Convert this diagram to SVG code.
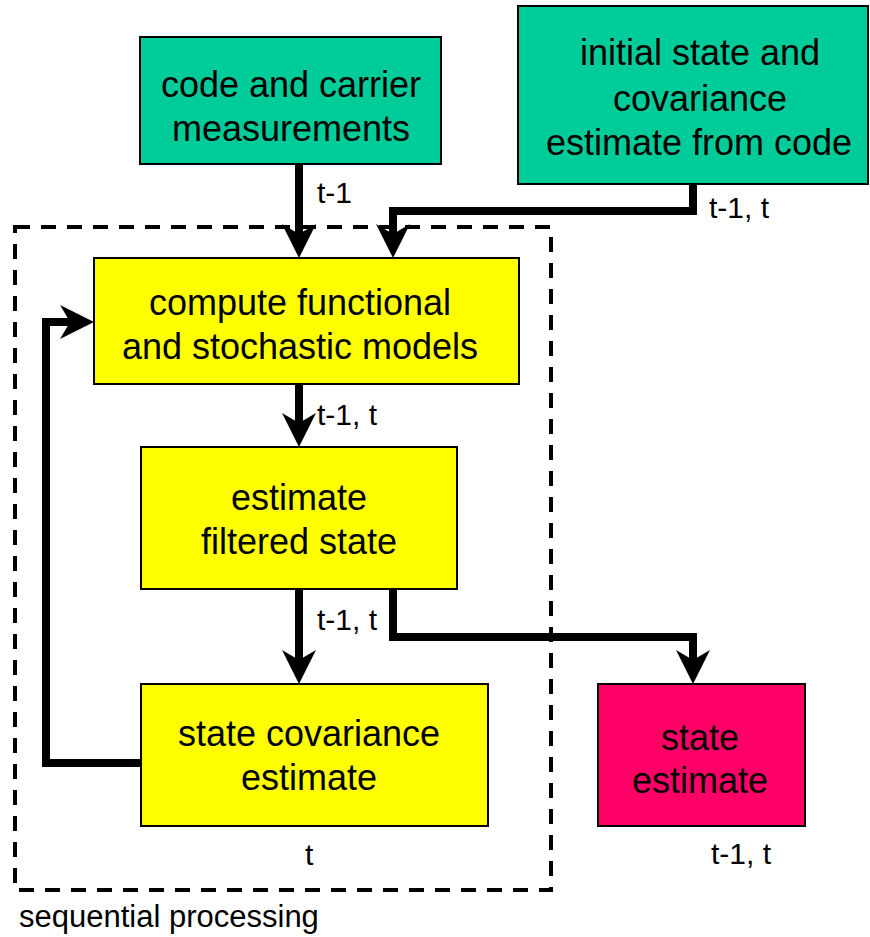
<svg xmlns="http://www.w3.org/2000/svg" width="870" height="937" viewBox="0 0 870 937">
  <style>
    .box { stroke: #000; stroke-width: 2; }
    .teal { fill: #00CC99; }
    .yellow { fill: #FFFF00; }
    .red { fill: #FF0066; }
    .label { font-family: "Liberation Sans", Arial, sans-serif; font-size: 36px; fill: #000; text-anchor: middle; }
    .small { font-family: "Liberation Sans", Arial, sans-serif; font-size: 30px; fill: #000; }
    .conn { fill: none; stroke: #000; stroke-width: 8; stroke-linejoin: miter; marker-end: url(#arrow); }
  </style>
  <defs>
    <marker id="arrow" viewBox="0 0 34 34" refX="10" refY="17" markerWidth="34" markerHeight="34" markerUnits="userSpaceOnUse" orient="auto">
      <path d="M0,0 L34,17 L0,34 L10,17 Z" fill="#000"/>
    </marker>
  </defs>

  <rect width="870" height="937" fill="#fff"/>

  <!-- sequential processing frame -->
  <g id="frame">
    <rect x="15" y="227" width="536" height="663" fill="none" stroke="#000" stroke-width="4" stroke-dasharray="15 11"/>
    <text class="small" x="19" y="927" style="font-size:31px">sequential processing</text>
  </g>

  <g id="measurements">
    <rect class="box teal" x="140" y="37" width="301" height="127"/>
    <text class="label" x="291" y="97">code and carrier</text>
    <text class="label" x="291" y="141">measurements</text>
  </g>

  <g id="initial">
    <rect class="box teal" x="518" y="6" width="350" height="178"/>
    <text class="label" x="700" y="65">initial state and</text>
    <text class="label" x="700" y="111">covariance</text>
    <text class="label" x="699" y="155">estimate from code</text>
  </g>

  <g id="models">
    <rect class="box yellow" x="94" y="258" width="425" height="126"/>
    <text class="label" x="300" y="315">compute functional</text>
    <text class="label" x="300" y="359">and stochastic models</text>
  </g>

  <g id="filtered">
    <rect class="box yellow" x="141" y="447" width="316" height="142"/>
    <text class="label" x="299" y="510">estimate</text>
    <text class="label" x="299" y="554">filtered state</text>
  </g>

  <g id="covariance">
    <rect class="box yellow" x="141" y="684" width="347" height="142"/>
    <text class="label" x="309" y="746">state covariance</text>
    <text class="label" x="309" y="790">estimate</text>
  </g>

  <g id="state">
    <rect class="box red" x="598" y="684" width="207" height="142"/>
    <text class="label" x="700" y="750">state</text>
    <text class="label" x="700" y="793">estimate</text>
  </g>

  <g id="connectors">
    <path class="conn" d="M299,164 V234"/>
    <path class="conn" d="M693,184 V211 H393 V234"/>
    <path class="conn" d="M299,384 V423"/>
    <path class="conn" d="M299,589 V660"/>
    <path class="conn" d="M393,589 V637 H693 V660"/>
    <path class="conn" d="M141,763 H46 V322 H70"/>
  </g>

  <g id="time-labels">
    <text class="small" x="317" y="203">t-1</text>
    <text class="small" x="709" y="218">t-1, t</text>
    <text class="small" x="317" y="425">t-1, t</text>
    <text class="small" x="317" y="630">t-1, t</text>
    <text class="small" x="305" y="865">t</text>
    <text class="small" x="711" y="864">t-1, t</text>
  </g>
</svg>
